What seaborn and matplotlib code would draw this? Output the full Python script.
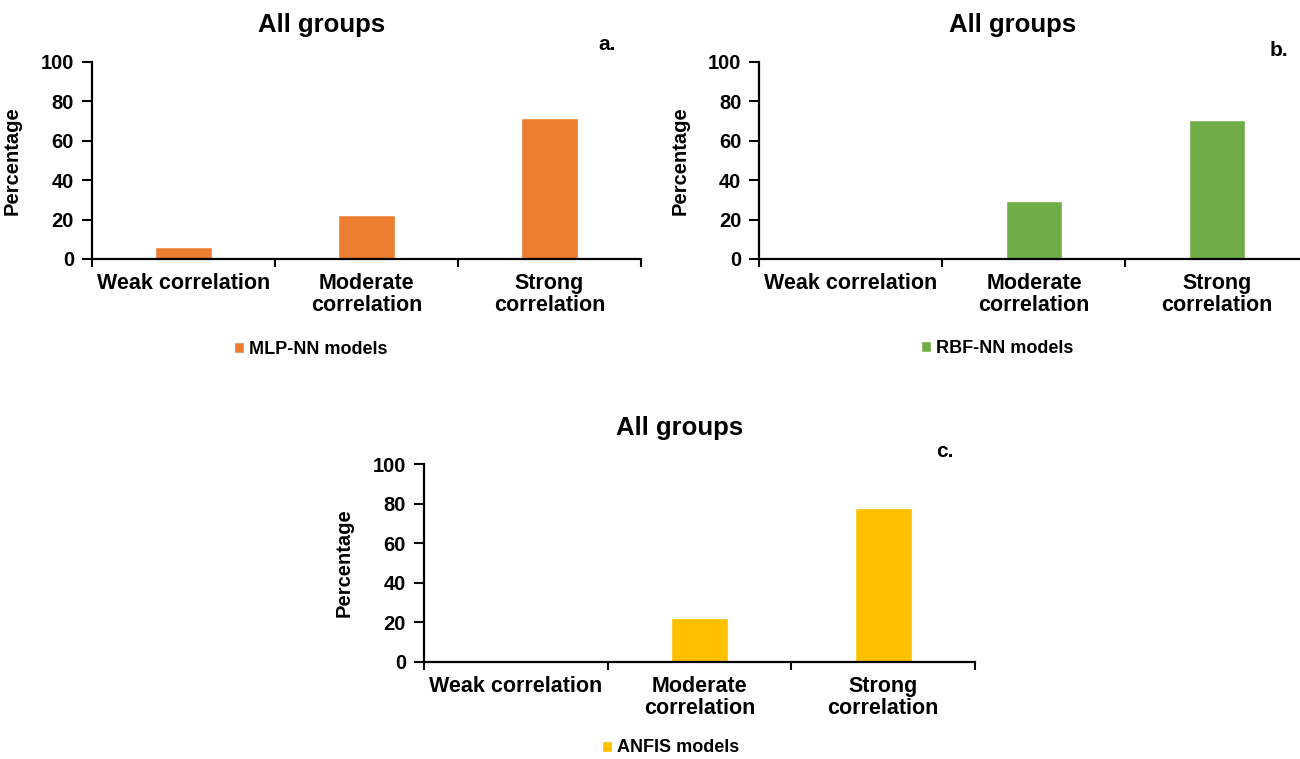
import matplotlib
matplotlib.use("Agg")
import matplotlib.pyplot as plt
from matplotlib.ticker import FixedLocator
import seaborn as sns

# data
categories = ["Weak correlation", "Moderate\ncorrelation", "Strong\ncorrelation"]
mlp_values = [6.0, 22.2, 71.5]
rbf_values = [0.0, 29.4, 70.6]
anfis_values = [0.0, 22.2, 77.8]

series_names = ["MLP-NN models", "RBF-NN models", "ANFIS models"]
panel_tags = ["a.", "b.", "c."]
colors = ["#ED7D31", "#70AD47", "#FFC000"]
yticks = [0, 20, 40, 60, 80, 100]

sns.set_style("white")
plt.rcParams["font.family"] = ["Liberation Sans", "DejaVu Sans"]
plt.rcParams["font.weight"] = "bold"
for key in ["text.color", "axes.labelcolor", "xtick.color", "ytick.color"]:
    plt.rcParams[key] = "black"

fig = plt.figure(figsize=(13, 7.59), dpi=100)

# axes boxes [left, bottom, width, height] in figure fraction
boxes = [
    [0.0708, 0.6588, 0.4223, 0.2596],
    [0.5842, 0.6588, 0.4223, 0.2596],
    [0.3262, 0.1282, 0.4238, 0.2601],
]
title_pos = [(0.247, 0.967), (0.779, 0.967), (0.523, 0.436)]
tag_pos = [(0.467, 0.941), (0.984, 0.934), (0.727, 0.405)]
legend_pos = [(0.239, 0.540), (0.767, 0.541), (0.516, 0.0145)]

all_values = [mlp_values, rbf_values, anfis_values]

for i in range(3):
    ax = fig.add_axes(boxes[i])
    sns.barplot(x=categories, y=all_values[i], color=colors[i], width=0.31,
                saturation=1, ax=ax, label=series_names[i])
    ax.set_xlim(-0.5, 2.5)
    ax.set_ylim(0, 100)
    ax.set_yticks(yticks)
    ax.tick_params(axis="y", labelsize=14.5, length=7, width=1.5, pad=6,
                   direction="out", left=True, colors="black")
    ax.tick_params(axis="x", which="major", labelsize=15.5, length=0, pad=10,
                   colors="black")
    ax.xaxis.set_minor_locator(FixedLocator([-0.5, 0.5, 1.5, 2.5]))
    ax.tick_params(axis="x", which="minor", length=6, width=1.5,
                   direction="out", bottom=True, colors="black")
    for lab in ax.get_xticklabels():
        lab.set_linespacing(1.1)
        lab.set_fontweight("bold")
    for lab in ax.get_yticklabels():
        lab.set_fontweight("bold")
    ax.set_ylabel("Percentage", fontsize=14.5, fontweight="bold", color="black")
    ax.yaxis.set_label_coords(-0.128, 0.5)
    sns.despine(ax=ax)
    for s in ["left", "bottom"]:
        ax.spines[s].set_linewidth(1.6)
        ax.spines[s].set_color("black")
    ax.spines["bottom"].set_zorder(5)

    fig.text(title_pos[i][0], title_pos[i][1], "All groups", fontsize=18.5,
             fontweight="bold", ha="center", va="center", color="black")
    fig.text(tag_pos[i][0], tag_pos[i][1], panel_tags[i], fontsize=15,
             fontweight="bold", ha="center", va="center", color="black")
    ax.legend(loc="center", bbox_to_anchor=legend_pos[i],
              bbox_transform=fig.transFigure, frameon=False,
              handlelength=0.55, handleheight=0.55, handletextpad=0.3,
              prop={"size": 13, "weight": "bold"}, labelcolor="black")

fig.savefig("out.png", dpi=100)
